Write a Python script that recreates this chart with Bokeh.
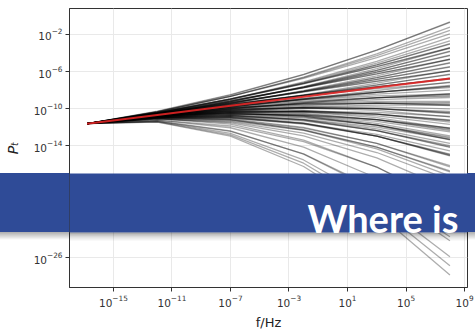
from bokeh.plotting import figure
from bokeh.models import FixedTicker, Label, BoxAnnotation, Range1d, Div
from bokeh.layouts import row
from bokeh.embed import file_html
from bokeh.resources import INLINE

log_f_nodes = [-16.8, -12.0, -7.0, -2.0, 3.0, 8.0]

# fiducial spectrum (red), log10 P_T
red_logP = [-11.6, -10.66, -9.68, -8.70, -7.72, -6.74]

# sampled spectra (black), log10 P_T at the nodes
spectra_logP = [
    [-11.6, -10.26, -8.48, -6.30, -3.71, -0.73],
    [-11.6, -10.36, -8.68, -6.59, -4.11, -1.22],
    [-11.6, -10.31, -8.67, -6.73, -4.50, -1.96],
    [-11.6, -10.48, -8.97, -7.11, -4.90, -2.34],
    [-11.6, -10.43, -8.96, -7.25, -5.28, -3.07],
    [-11.6, -10.37, -8.91, -7.28, -5.48, -3.50],
    [-11.6, -10.60, -9.26, -7.62, -5.68, -3.45],
    [-11.6, -10.54, -9.21, -7.65, -5.88, -3.87],
    [-11.6, -10.48, -9.16, -7.69, -6.07, -4.30],
    [-11.6, -10.41, -9.10, -7.72, -6.26, -4.73],
    [-11.6, -10.64, -9.45, -8.06, -6.47, -4.68],
    [-11.6, -10.58, -9.40, -8.09, -6.66, -5.10],
    [-11.6, -10.52, -9.35, -8.13, -6.85, -5.53],
    [-11.6, -10.46, -9.30, -8.16, -7.04, -5.96],
    [-11.6, -10.69, -9.64, -8.50, -7.25, -5.91],
    [-11.6, -10.63, -9.59, -8.53, -7.44, -6.33],
    [-11.6, -10.57, -9.54, -8.56, -7.64, -6.76],
    [-11.6, -10.51, -9.49, -8.60, -7.83, -7.19],
    [-11.6, -10.74, -9.84, -8.94, -8.04, -7.14],
    [-11.6, -10.68, -9.78, -8.97, -8.23, -7.56],
    [-11.6, -10.61, -9.73, -9.00, -8.42, -7.99],
    [-11.6, -10.55, -9.68, -9.03, -8.61, -8.42],
    [-11.6, -10.78, -10.03, -9.37, -8.82, -8.37],
    [-11.6, -10.72, -9.98, -9.41, -9.01, -8.79],
    [-11.6, -10.66, -9.92, -9.44, -9.20, -9.22],
    [-11.6, -10.60, -9.87, -9.47, -9.40, -9.65],
    [-11.6, -10.83, -10.22, -9.81, -9.60, -9.60],
    [-11.6, -10.77, -10.17, -9.85, -9.80, -10.02],
    [-11.6, -10.71, -10.12, -9.88, -9.99, -10.45],
    [-11.6, -10.64, -10.06, -9.91, -10.18, -10.88],
    [-11.6, -10.87, -10.41, -10.25, -10.39, -10.83],
    [-11.6, -10.81, -10.36, -10.28, -10.58, -11.25],
    [-11.6, -10.75, -10.31, -10.32, -10.77, -11.68],
    [-11.6, -10.69, -10.26, -10.35, -10.96, -12.11],
    [-11.6, -10.92, -10.60, -10.69, -11.17, -12.06],
    [-11.6, -10.86, -10.55, -10.72, -11.36, -12.48],
    [-11.6, -10.80, -10.50, -10.75, -11.56, -12.91],
    [-11.6, -10.74, -10.45, -10.79, -11.75, -13.34],
    [-11.6, -10.97, -10.80, -11.13, -11.96, -13.29],
    [-11.6, -10.91, -10.74, -11.16, -12.15, -13.71],
    [-11.6, -10.84, -10.69, -11.19, -12.34, -14.14],
    [-11.6, -11.01, -10.99, -11.56, -12.74, -14.52],
    [-11.6, -10.95, -10.94, -11.60, -12.93, -14.94],
    [-11.6, -10.88, -10.84, -11.52, -12.93, -15.06],
    [-11.6, -11.09, -11.32, -12.33, -14.11, -16.67],
    [-11.6, -11.02, -11.22, -12.25, -14.11, -16.79],
    [-11.6, -10.96, -11.17, -12.29, -14.30, -17.21],
    [-11.6, -11.09, -11.51, -12.91, -15.28, -18.63],
    [-11.6, -11.22, -11.85, -13.54, -16.27, -20.05],
    [-11.6, -11.07, -11.65, -13.38, -16.26, -20.29],
    [-11.6, -11.22, -12.04, -14.12, -17.44, -22.02],
    [-11.6, -11.36, -12.43, -14.85, -18.62, -23.74],
    [-11.6, -11.30, -12.38, -14.88, -18.81, -24.17],
    [-11.6, -11.36, -12.65, -15.50, -19.91, -25.89],
    [-11.6, -11.40, -12.80, -15.85, -20.54, -26.87],
    [-11.6, -11.43, -12.95, -16.20, -21.16, -27.86],
    [-11.6, -10.34, -8.67, -6.66, -4.30, -1.59],
    [-11.6, -10.45, -8.97, -7.18, -5.09, -2.70],
    [-11.6, -10.57, -9.26, -7.69, -5.88, -3.81],
    [-11.6, -10.40, -8.96, -7.32, -5.48, -3.44],
    [-11.6, -10.51, -9.21, -7.73, -6.07, -4.24],
    [-11.6, -10.62, -9.45, -8.13, -6.66, -5.04],
    [-11.6, -10.45, -9.15, -7.76, -6.26, -4.67],
    [-11.6, -10.56, -9.40, -8.16, -6.85, -5.47],
    [-11.6, -10.67, -9.64, -8.57, -7.45, -6.27],
    [-11.6, -10.50, -9.35, -8.20, -7.05, -5.90],
    [-11.6, -10.60, -9.59, -8.60, -7.64, -6.70],
    [-11.6, -10.71, -9.83, -9.01, -8.23, -7.50],
    [-11.6, -10.53, -9.49, -8.53, -7.63, -6.82],
    [-11.6, -10.64, -9.73, -8.93, -8.23, -7.62],
    [-11.6, -10.75, -9.98, -9.34, -8.82, -8.43],
    [-11.6, -10.57, -9.63, -8.85, -8.22, -7.74],
    [-11.6, -10.67, -9.88, -9.26, -8.81, -8.55],
    [-11.6, -10.78, -10.12, -9.66, -9.41, -9.35],
    [-11.6, -10.60, -9.78, -9.18, -8.81, -8.66],
    [-11.6, -10.71, -10.02, -9.59, -9.40, -9.47],
    [-11.6, -10.82, -10.27, -9.99, -9.99, -10.27],
    [-11.6, -10.63, -9.92, -9.51, -9.40, -9.59],
    [-11.6, -10.74, -10.17, -9.92, -9.99, -10.39],
    [-11.6, -10.85, -10.41, -10.32, -10.58, -11.19],
    [-11.6, -10.67, -10.07, -9.84, -9.99, -10.51],
    [-11.6, -10.78, -10.31, -10.24, -10.58, -11.31],
    [-11.6, -10.88, -10.55, -10.65, -11.17, -12.12],
    [-11.6, -10.70, -10.21, -10.17, -10.57, -11.43],
    [-11.6, -10.81, -10.45, -10.57, -11.17, -12.24],
    [-11.6, -10.92, -10.70, -10.98, -11.76, -13.04],
    [-11.6, -10.74, -10.35, -10.50, -11.16, -12.35],
    [-11.6, -10.85, -10.60, -10.90, -11.75, -13.16],
    [-11.6, -10.95, -10.84, -11.31, -12.35, -13.96],
    [-11.6, -10.77, -10.50, -10.82, -11.75, -13.28],
    [-11.6, -10.88, -10.74, -11.23, -12.34, -14.08],
    [-11.6, -10.99, -10.99, -11.64, -12.93, -14.88],
    [-11.6, -10.92, -10.89, -11.56, -12.93, -15.00],
    [-11.6, -11.03, -11.18, -12.07, -13.72, -16.11],
    [-11.6, -10.96, -11.08, -12.00, -13.72, -16.23],
    [-11.6, -11.09, -11.42, -12.62, -14.70, -17.65],
    [-11.6, -10.30, -8.53, -6.33, -3.71, -0.67],
    [-11.6, -10.47, -9.01, -7.29, -5.29, -3.01],
]

x_tick_exps = [-15, -11, -7, -3, 1, 5, 9]
y_tick_exps = [-26, -14, -10, -6, -2]
x_label = "f/Hz"
y_label = "P\u209c"
banner_text = "Where is"

f_nodes = [10.0 ** v for v in log_f_nodes]

p = figure(width=475, height=332, x_axis_type="log", y_axis_type="log",
           x_range=Range1d(10 ** -18.0, 10 ** 9.2),
           y_range=Range1d(10 ** -29.2, 10 ** 0.77),
           output_backend="svg", toolbar_location=None,
           min_border_left=69, min_border_right=8, min_border_top=8,
           min_border_bottom=43)

p.background_fill_color = "white"
p.border_fill_color = "white"
p.outline_line_color = "#333333"
p.outline_line_width = 1

for ax, exps in ((p.xaxis[0], x_tick_exps), (p.yaxis[0], y_tick_exps)):
    ax.ticker = FixedTicker(ticks=[10.0 ** e for e in exps])
    ax.axis_line_color = "#333333"
    ax.major_tick_line_color = "#333333"
    ax.major_tick_out = 4
    ax.major_tick_in = 0
    ax.minor_tick_line_color = None
    ax.major_label_text_font = "DejaVu Sans"
    ax.major_label_text_font_size = "10.5px"
    ax.major_label_text_color = "#333333"
    ax.major_label_standoff = 3
    ax.axis_label_text_font = "DejaVu Sans"
    ax.axis_label_text_font_size = "13px"
    ax.axis_label_text_color = "#222222"

p.xaxis[0].axis_label = x_label
p.xaxis[0].axis_label_text_font_style = "normal"
p.xaxis[0].axis_label_standoff = 5
p.yaxis[0].axis_label = y_label
p.yaxis[0].axis_label_text_font_style = "italic"
p.yaxis[0].axis_label_text_font_size = "14px"
p.yaxis[0].axis_label_standoff = 10

p.xgrid.grid_line_color = "#e9e9e9"
p.ygrid.grid_line_color = "#e9e9e9"

xs = [f_nodes for _ in spectra_logP]
ys = [[10.0 ** v for v in row_] for row_ in spectra_logP]
p.multi_line(xs, ys, line_color="black", line_alpha=0.32, line_width=1.3)
p.line(f_nodes, [10.0 ** v for v in red_logP], line_color="#e02424",
       line_width=2, line_alpha=0.9)

# banner across the slide (inside the frame)
BANNER_TOP, BANNER_BOTTOM, BANNER_COLOR = 173, 232, "#2f4b97"
SHADOW_ALPHAS = [0.32, 0.2, 0.11, 0.05]


def band(top, bottom, color, alpha):
    p.add_layout(BoxAnnotation(left=-10, right=485, top=top, bottom=bottom,
                               left_units="canvas", right_units="canvas",
                               top_units="canvas", bottom_units="canvas",
                               fill_color=color, fill_alpha=alpha,
                               line_color=None, level="overlay"))


band(BANNER_TOP, BANNER_BOTTOM, BANNER_COLOR, 1.0)
for i, a in enumerate(SHADOW_ALPHAS):
    band(BANNER_BOTTOM + 2 * i, BANNER_BOTTOM + 2 * i + 2, "black", a)

p.add_layout(Label(x=307, y=217, x_units="canvas", y_units="canvas",
                   text=banner_text, text_color="white", text_font="Lato",
                   text_font_style="bold", text_font_size="38px",
                   text_baseline="alphabetic", level="overlay"))

# the banner continues across the page margins, outside the plot frame
def side_piece(left, width):
    h = BANNER_BOTTOM - BANNER_TOP
    return (
        f'<div style="position:fixed;left:{left}px;top:{BANNER_TOP}px;width:{width}px;'
        f'height:{h}px;background:{BANNER_COLOR};"></div>'
        f'<div style="position:fixed;left:{left}px;top:{BANNER_BOTTOM}px;width:{width}px;'
        f'height:8px;background:linear-gradient(rgba(0,0,0,0.32),rgba(0,0,0,0));"></div>'
    )


edges = Div(text=side_piece(0, 69) + side_piece(467, 8), width=0, height=0)

layout = row(p, edges)
open("out.html", "w").write(file_html(layout, INLINE))
